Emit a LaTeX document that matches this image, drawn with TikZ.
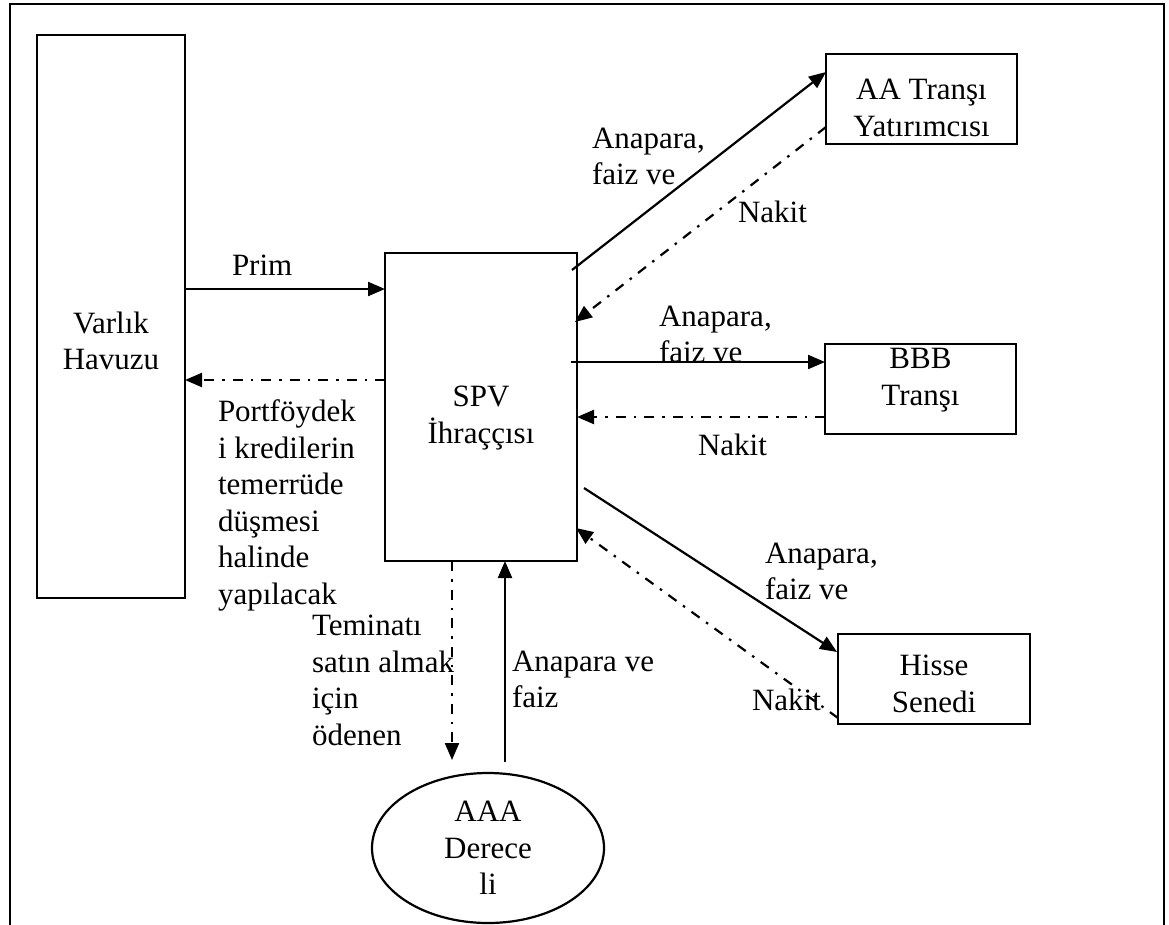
\documentclass[tikz,border=0pt]{standalone}
\usepackage{fontspec}
\setmainfont{Liberation Serif}
\usetikzlibrary{arrows.meta,shapes.geometric}
\begin{document}
\begin{tikzpicture}[x=1pt,y=-1pt,
  every node/.style={font=\fontsize{31}{36.5}\selectfont, inner sep=0pt, outer sep=0pt},
  box/.style={draw, rectangle, line width=2.2pt},
  boxtext/.style={align=center, anchor=center},
  lbl/.style={align=left, anchor=north west},
  lbl1/.style={anchor=west},
  flow/.style={line width=2.2pt, -{Triangle[length=17pt,width=14pt]}},
  back/.style={flow, dash pattern=on 10pt off 8pt on 2.5pt off 8pt}]
\useasboundingbox (0,0) rectangle (1169,924);

% outer frame
\draw[line width=2.6pt] (10,940) -- (10,4) -- (1164,4) -- (1164,940);

% boxes
\node[box, minimum width=148pt, minimum height=563pt] (vh) at (111,316.5) {};
\node[boxtext] (vht) at (111,341) {Varlık\\Havuzu};

\node[box, minimum width=192pt, minimum height=308pt] (spv) at (481,407) {};
\node[boxtext] (spvt) at (481,418) {SPV\\İhraççısı};

\node[box, minimum width=191pt, minimum height=90pt] (aa) at (921.5,99) {};
\node[boxtext] (aat) at (921.5,108) {AA Tranşı\\Yatırımcısı};

\node[box, minimum width=191pt, minimum height=90pt] (bbb) at (920.5,389) {};
\node[boxtext] (bbbt) at (920.5,380) {BBB\\Tranşı};

\node[box, minimum width=192pt, minimum height=90pt] (hs) at (934,679) {};
\node[boxtext] (hst) at (934,684) {Hisse\\Senedi};

\node[draw, ellipse, line width=2.2pt, minimum width=232pt, minimum height=150pt, align=center] (aaa) at (488,848) {AAA\\Derece\\li};

% connectors
\draw[flow] ([yshift=-254pt]vh.north east) -- ([yshift=-36pt]spv.north west);
\draw[back] ([yshift=-127pt]spv.north west) -- ([yshift=-345pt]vh.north east);

\draw[flow] ([xshift=-5pt,yshift=-17pt]spv.north east) -- ([yshift=-18pt]aa.north west);
\draw[back] ([yshift=-73pt]aa.north west) -- ([xshift=-2pt,yshift=-69pt]spv.north east);

\draw[flow] ([xshift=-6pt,yshift=-109pt]spv.north east) -- ([yshift=-18pt]bbb.north west);
\draw[back] ([yshift=-73pt]bbb.north west) -- ([yshift=-164pt]spv.north east);

\draw[flow] ([xshift=7pt,yshift=-235pt]spv.north east) -- ([xshift=-1pt,yshift=-18pt]hs.north west);
\draw[back] ([yshift=-84pt]hs.north west) -- ([xshift=-1pt,yshift=-275pt]spv.north east);

\draw[back] ([xshift=67pt]spv.south west) -- ([xshift=-36pt,yshift=13pt]aaa.north);
\draw[flow] ([xshift=17pt,yshift=11pt]aaa.north) -- ([xshift=120pt]spv.south west);

% labels
\node[lbl1] (lprim) at (232,265) {Prim};
\node[lbl] (lport) at (218,400) {Portföydek\\i kredilerin\\temerrüde\\düşmesi\\halinde\\yapılacak};
\node[lbl] (ltem) at (312,615) {Teminatı\\satın almak\\için\\ödenen};
\node[lbl] (lanf) at (512,651) {Anapara ve\\faiz};

\node[lbl] (laa) at (592,128) {Anapara,\\faiz ve};
\node[lbl1] (laan) at (738,212) {Nakit};

\node[lbl] (lbb) at (659,306) {Anapara,\\faiz ve};
\node[lbl1] (lbbn) at (698,445) {Nakit};

\node[lbl] (lhs) at (765,543) {Anapara,\\faiz ve};
\node[lbl1] (lhsn) at (752,700) {Nakit};
\end{tikzpicture}
\end{document}
